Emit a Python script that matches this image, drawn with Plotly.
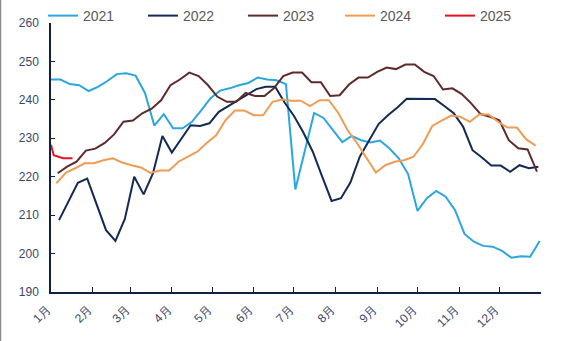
import pandas as pd
import plotly.graph_objects as go

# ---------------- data ----------------
months = ["1月", "2月", "3月", "4月", "5月", "6月", "7月", "8月", "9月", "10月", "11月", "12月", ""]

v2021 = [245.3, 245.3, 244.1, 243.8, 242.3, 243.4, 244.9, 246.7, 246.9, 246.3, 241.8, 233.3, 236.3,
         232.6, 232.6, 234.3, 237.3, 240.5, 242.4, 243.0, 243.8, 244.4, 245.8, 245.3, 245.1, 244.1,
         216.7, 226.7, 236.6, 235.3, 232.1, 229.0, 230.6, 229.5, 228.9, 229.4, 227.4, 224.8, 220.7,
         211.1, 214.4, 216.3, 214.8, 211.3, 205.1, 203.1, 202.0, 201.8, 200.7, 198.9, 199.3, 199.2, 203.3]
v2022 = [208.7, 213.5, 218.4, 219.5, 212.6, 206.1, 203.3, 209.0, 220.0, 215.4, 220.9, 230.6, 226.3,
         229.8, 233.4, 233.2, 233.9, 236.9, 238.4, 239.9, 241.2, 242.8, 243.4, 243.4, 239.3, 235.8,
         231.5, 226.5, 220.0, 213.7, 214.4, 218.5, 225.2, 229.5, 233.7, 236.0, 238.0, 240.3, 240.3,
         240.2, 240.2, 238.4, 236.5, 233.0, 226.9, 225.0, 222.9, 222.9, 221.3, 223.0, 222.2, 222.6]
v2023 = [220.9, 222.6, 223.9, 226.8, 227.3, 228.8, 231.0, 234.3, 234.6, 236.5, 237.7, 239.9, 243.8,
         245.3, 247.1, 246.2, 243.8, 240.8, 239.5, 239.5, 241.8, 241.0, 241.0, 243.0, 246.2, 247.1,
         247.1, 244.6, 244.6, 241.0, 241.2, 244.0, 245.8, 245.8, 247.3, 248.4, 248.0, 249.2, 249.2,
         247.3, 246.2, 242.7, 243.0, 241.5, 239.1, 236.3, 235.6, 234.7, 229.5, 227.4, 227.1, 221.3]
v2024 = [218.3, 221.0, 222.2, 223.5, 223.5, 224.3, 224.8, 223.7, 223.0, 222.4, 221.0, 221.6, 221.6,
         223.9, 225.2, 226.5, 228.8, 230.8, 234.7, 237.2, 237.2, 236.0, 236.0, 239.5, 240.1, 239.8,
         239.8, 238.4, 239.9, 239.9, 236.6, 232.1, 228.7, 224.8, 221.1, 223.0, 223.9, 224.3, 225.2,
         228.5, 233.2, 234.6, 235.9, 235.6, 234.3, 236.2, 236.2, 234.3, 232.8, 232.8, 229.7, 228.1]
v2025 = [228.3, 225.6, 224.8, 224.8]
d2025 = ["2025-01-01", "2025-01-03", "2025-01-10", "2025-01-17"]

series = [
    ("2021", "2021-01-01", v2021, "#2aa7df"),
    ("2022", "2022-01-07", v2022, "#132a55"),
    ("2023", "2023-01-06", v2023, "#5e2b2b"),
    ("2024", "2024-01-05", v2024, "#f19c55"),
]


def day_of_year(dates):
    dates = pd.to_datetime(dates)
    return [(d - pd.Timestamp(year=d.year, month=1, day=1)).days for d in dates]


legend_ids = ["legend", "legend2", "legend3", "legend4", "legend5"]
legend_px = [43, 143, 243, 340, 440]

fig = go.Figure()
for i, (name, start, vals, color) in enumerate(series):
    dates = pd.date_range(start, periods=len(vals), freq="7D")
    fig.add_trace(go.Scatter(x=day_of_year(dates), y=vals, mode="lines", name=name,
                             legend=legend_ids[i], line=dict(color=color, width=2)))
fig.add_trace(go.Scatter(x=day_of_year(d2025), y=v2025, mode="lines", name="2025",
                         legend=legend_ids[4], line=dict(color="#e5131d", width=2)))

month_starts = pd.date_range("2021-01-01", periods=13, freq="MS")
tickvals = [(d - pd.Timestamp("2021-01-01")).days for d in month_starts]

W, H = 565, 341
L, R, T, B = 51, 24, 23, 49
pw, ph = W - L - R, H - T - B

axis_col = "#0f2147"
tick_font = dict(family="Liberation Sans, Arial, sans-serif", size=12, color="#3a4767")
legend_font = dict(family="Liberation Sans, Arial, sans-serif", size=14, color="#595959")

legends = {}
for lid, px in zip(legend_ids, legend_px):
    legends[lid] = dict(orientation="h", xref="container", yref="container",
                        x=px / W, y=1.0, xanchor="left", yanchor="top",
                        font=legend_font, itemwidth=30, bgcolor="rgba(0,0,0,0)")

fig.update_layout(
    width=W, height=H,
    margin=dict(l=L, r=R, t=T, b=B, autoexpand=False),
    paper_bgcolor="white", plot_bgcolor="white",
    showlegend=True,
    **legends,
    xaxis=dict(range=[0, 365], tickmode="array", tickvals=tickvals, ticktext=months,
               tickangle=-45, showgrid=False, zeroline=False,
               showline=True, linecolor=axis_col, linewidth=1.5,
               ticks="inside", ticklen=5, tickcolor=axis_col, tickwidth=1,
               ticklabelstandoff=4, ticklabelshift=-4, tickfont=tick_font),
    yaxis=dict(range=[190, 260], dtick=10, showgrid=False, zeroline=False,
               showline=True, linecolor=axis_col, linewidth=1.5,
               ticks="inside", ticklen=4, tickcolor=axis_col, tickwidth=1,
               ticklabelstandoff=8, tickfont=tick_font),
    shapes=[
        dict(type="line", xref="paper", yref="paper",
             x0=(0 - L) / pw, x1=(W - L) / pw, y0=(H - T - 0.5) / ph, y1=(H - T - 0.5) / ph,
             line=dict(color="#8a8a8a", width=1.5)),
        dict(type="line", xref="paper", yref="paper",
             x0=(0.5 - L) / pw, x1=(0.5 - L) / pw, y0=-B / ph, y1=(H - B) / ph,
             line=dict(color="#8a8a8a", width=1.5)),
    ],
)

fig.write_html("out.html")
